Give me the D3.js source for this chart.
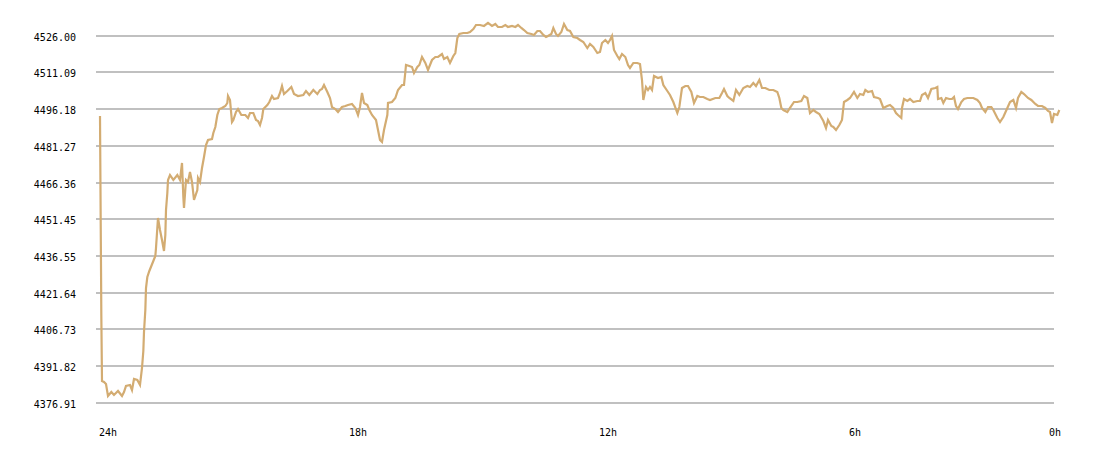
<!DOCTYPE html>
<html>
<head>
<meta charset="utf-8">
<script src="https://cdn.jsdelivr.net/npm/d3@7"></script>
<style>
  html, body { margin: 0; padding: 0; background: #fff; }
  svg text { font-family: "DejaVu Sans Mono", "Liberation Mono", monospace; font-size: 10px; fill: #000; }
</style>
</head>
<body>
<div id="chart"></div>
<script>
// minutes since the start of the 24h window
const minutes = [0,2,3,6,9,12,17,21,27,33,36,39,45,48,51,56,60,63,65,66,68,69,71,74,77,80,83,84,86,87,
  90,93,96,98,99,101,102,105,110,116,120,123,125,126,129,132,135,138,141,146,147,150,153,156,159,162,168,170,173,176,
  179,183,188,191,192,195,198,200,204,207,212,215,218,222,225,230,234,237,240,243,245,251,254,258,261,267,270,273,276,281,
  287,291,297,305,309,314,320,326,330,333,336,341,345,348,353,357,363,368,372,378,383,387,390,393,396,401,404,408,414,417,
  420,423,426,431,432,438,443,447,453,456,458,459,464,468,471,476,479,483,488,492,498,503,507,513,516,521,525,530,533,536,
  539,545,551,555,560,564,570,576,582,588,593,597,603,608,612,618,623,627,632,636,641,647,651,656,660,665,669,672,677,680,
  684,687,692,696,701,705,710,716,720,725,731,735,740,746,750,753,758,762,765,768,771,776,779,783,788,792,795,800,806,810,
  813,815,819,822,825,828,831,837,842,845,851,855,860,866,869,873,878,882,887,891,896,900,905,911,915,923,929,933,936,941,
  944,950,954,959,965,971,975,980,984,989,993,998,1004,1010,1016,1019,1022,1025,1031,1035,1041,1046,1052,1056,1061,1065,1070,1074,1079,1085,
  1089,1092,1097,1100,1104,1109,1113,1116,1121,1125,1131,1136,1140,1145,1148,1152,1158,1161,1167,1170,1175,1181,1185,1190,1194,1197,1202,1203,1206,1211,
  1215,1220,1226,1230,1233,1238,1242,1247,1253,1256,1257,1262,1265,1269,1274,1278,1281,1284,1287,1292,1296,1301,1305,1310,1316,1320,1323,1328,1332,1337,
  1340,1346,1350,1355,1361,1365,1370,1374,1377,1382,1386,1392,1397,1403,1407,1413,1418,1422,1425,1428,1431,1436,1439];

const prices = [4492.98,4411.73,4385.32,4384.92,4384.10,4379.23,4380.85,4379.64,4381.26,4379.23,4380.85,4383.29,4383.70,4381.67,4386.13,4385.73,4383.70,4390.60,4397.51,4405.23,4414.17,4423.10,4427.57,4430.01,4432.04,4434.07,4436.10,4439.35,4447.48,4451.54,
  4446.66,4442.60,4438.13,4444.63,4454.79,4461.70,4466.98,4469.01,4466.98,4469.01,4466.98,4473.88,4460.07,4455.60,4466.98,4466.16,4470.23,4466.16,4458.85,4462.91,4467.79,4466.16,4471.85,4476.32,4481.20,4483.23,4483.63,4486.07,4488.51,4493.38,
  4495.82,4496.23,4497.04,4498.26,4501.10,4499.48,4490.54,4491.35,4494.60,4495.82,4493.38,4493.38,4493.38,4492.16,4494.19,4494.19,4491.35,4490.94,4489.32,4492.16,4495.82,4497.44,4498.66,4501.10,4499.88,4500.29,4502.32,4505.16,4501.91,4503.13,
  4504.76,4501.91,4501.10,4501.51,4503.13,4501.51,4503.54,4501.91,4503.54,4503.94,4505.57,4502.73,4500.29,4496.63,4495.82,4494.60,4496.63,4497.04,4497.44,4497.85,4496.23,4493.38,4496.63,4502.32,4498.26,4497.44,4495.41,4493.38,4491.35,4487.29,
  4483.23,4482.41,4487.29,4493.38,4498.26,4498.66,4500.29,4503.54,4505.57,4505.57,4510.85,4513.69,4513.29,4512.88,4510.44,4512.88,4513.69,4516.94,4514.51,4511.66,4515.73,4516.94,4516.94,4518.16,4516.13,4516.94,4514.51,4517.35,4518.57,4524.66,
  4526.29,4526.69,4526.69,4527.10,4528.32,4529.94,4529.94,4529.54,4530.76,4529.54,4530.35,4529.13,4529.13,4529.94,4529.13,4529.54,4529.13,4529.94,4528.73,4527.91,4526.69,4526.29,4525.88,4527.51,4527.51,4525.88,4525.07,4525.48,4526.29,4528.73,
  4526.29,4525.48,4527.10,4530.35,4527.91,4527.51,4525.07,4524.66,4523.85,4523.04,4520.60,4522.23,4521.01,4518.57,4518.98,4522.63,4523.85,4522.63,4523.85,4525.48,4519.79,4517.35,4516.13,4518.16,4516.94,4513.69,4512.48,4514.51,4514.51,4514.10,
  4507.60,4499.48,4504.76,4503.54,4504.76,4503.54,4509.23,4508.41,4508.82,4505.57,4503.13,4501.51,4498.66,4494.19,4496.63,4504.35,4505.16,4505.16,4502.73,4498.26,4501.10,4500.69,4500.69,4499.88,4499.48,4500.29,4500.29,4502.32,4503.94,4501.10,
  4500.29,4499.07,4503.54,4501.51,4504.35,4505.16,4504.76,4506.38,4505.16,4507.60,4504.35,4504.35,4503.54,4503.54,4502.73,4500.29,4496.23,4495.41,4494.60,4496.23,4498.66,4498.66,4499.07,4501.10,4500.29,4494.19,4495.41,4494.60,4493.79,4490.94,
  4488.10,4491.35,4488.91,4488.51,4487.29,4489.32,4491.35,4498.66,4499.48,4500.29,4502.73,4500.29,4501.91,4501.51,4503.54,4502.73,4503.13,4500.69,4500.29,4499.88,4496.23,4497.04,4497.44,4496.23,4494.19,4493.38,4492.16,4496.23,4499.88,4499.07,
  4499.88,4498.66,4499.07,4499.07,4501.51,4502.32,4500.29,4503.94,4504.35,4504.76,4499.88,4500.29,4498.26,4500.29,4499.88,4499.88,4500.69,4497.04,4495.82,4498.66,4499.88,4500.29,4500.29,4500.29,4499.48,4498.26,4496.23,4494.60,4496.63,4496.63,
  4495.41,4492.16,4490.54,4492.57,4496.23,4498.66,4499.48,4496.23,4500.29,4502.73,4501.91,4500.29,4499.48,4497.85,4497.04,4497.04,4496.23,4495.01,4494.60,4490.13,4493.79,4493.38,4495.41];

const yTickLabels = ["4376.91","4391.82","4406.73","4421.64","4436.55","4451.45","4466.36","4481.27","4496.18","4511.09","4526.00"];
const xTickHours = [24, 18, 12, 6, 0];

const W = 1100, H = 458;
const gridLeft = 96, gridRight = 1054;

const svg = d3.select("#chart").append("svg")
  .attr("width", W)
  .attr("height", H);

const x = d3.scaleLinear().domain([0, 1440]).range([100, 1060]);
const y = d3.scaleLinear().domain([4376.91, 4526.00]).range([401.7, 34.7]);
// hour labels are spread evenly, the last one pulled back inside
const xLabel = d3.scaleLinear().domain([24, 0]).range([99, 1099]);

// grid lines + y labels
const grid = svg.append("g");
grid.selectAll("line")
  .data(yTickLabels)
  .join("line")
  .attr("x1", gridLeft)
  .attr("x2", gridRight)
  .attr("y1", d => Math.round(y(+d)) + 0.5)
  .attr("y2", d => Math.round(y(+d)) + 0.5)
  .attr("stroke", "#c0c0c0")
  .attr("stroke-width", 2)
  .attr("shape-rendering", "crispEdges");

grid.selectAll("text")
  .data(yTickLabels)
  .join("text")
  .attr("x", 76)
  .attr("y", d => y(+d) + 6)
  .attr("text-anchor", "end")
  .text(d => d);

svg.append("g").selectAll("text")
  .data(xTickHours)
  .join("text")
  .attr("x", d => Math.min(xLabel(d), 1049))
  .attr("y", 436)
  .text(d => d + "h");

// price line
const line = d3.line()
  .x((d, i) => x(minutes[i]))
  .y(d => y(d));

svg.append("path")
  .datum(prices)
  .attr("fill", "none")
  .attr("stroke", "#d3ac72")
  .attr("stroke-width", 2.2)
  .attr("stroke-linejoin", "miter")
  .attr("d", line);
</script>
</body>
</html>
